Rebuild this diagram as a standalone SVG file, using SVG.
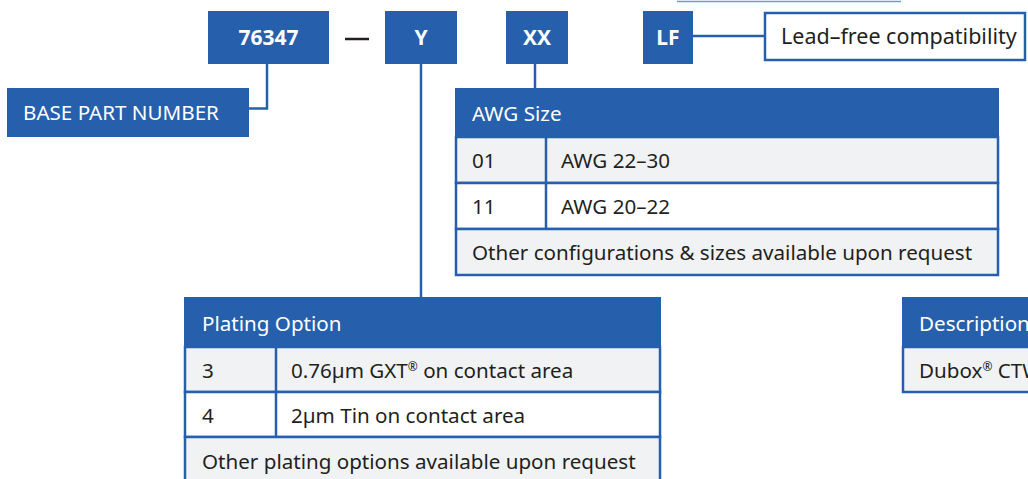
<svg xmlns="http://www.w3.org/2000/svg" width="1028" height="479" viewBox="0 0 1028 479">
<style>
  .blue{fill:#265FAC;}
  .hdr{fill:#265FAC;stroke:#265FAC;stroke-width:2;}
  .gray{fill:#F1F2F4;stroke:#265FAC;stroke-width:2.5;}
  .white{fill:#FFFFFF;stroke:#265FAC;stroke-width:2.5;}
  .div{stroke:#265FAC;stroke-width:2.5;}
  .conn{stroke:#265FAC;stroke-width:2.5;fill:none;}
  text{font-family:"Noto Sans","Open Sans",sans-serif;font-size:20.6px;fill:#231F20;}
  .wt{fill:#FFFFFF;}
  .bold{font-weight:bold;font-size:21px;fill:#FFFFFF;}
  .reg{font-size:12px;}
</style>
<rect width="1028" height="479" fill="#FFFFFF"/>
<line x1="677" y1="1.5" x2="901" y2="1.5" stroke="#6E9BD0" stroke-width="1.5"/>

<g id="connectors">
  <polyline class="conn" points="267,64 267,108.5 249,108.5"/>
  <line class="conn" x1="421" y1="64" x2="421" y2="298"/>
  <line class="conn" x1="535" y1="64" x2="535" y2="89"/>
  <line class="conn" x1="693" y1="36" x2="765" y2="36"/>
</g>

<g id="part-76347">
  <rect class="blue" x="208" y="11" width="121" height="53"/>
  <text class="bold" x="268.5" y="45" text-anchor="middle">76347</text>
</g>
<g id="dash">
  <line x1="345" y1="39" x2="369" y2="39" stroke="#231F20" stroke-width="2.5"/>
</g>
<g id="part-Y">
  <rect class="blue" x="385" y="11" width="72" height="53"/>
  <text class="bold" x="421" y="45" text-anchor="middle">Y</text>
</g>
<g id="part-XX">
  <rect class="blue" x="506" y="11" width="62" height="53"/>
  <text class="bold" x="537" y="45" text-anchor="middle">XX</text>
</g>
<g id="part-LF">
  <rect class="blue" x="643" y="11" width="50" height="53"/>
  <text class="bold" x="668" y="45" text-anchor="middle">LF</text>
</g>
<g id="lead-free">
  <rect x="765" y="13" width="260" height="47" fill="#FFFFFF" stroke="#265FAC" stroke-width="2.5"/>
  <text x="781" y="44" style="font-size:21.5px">Lead–free compatibility</text>
</g>
<g id="base-part-number">
  <rect class="blue" x="7" y="88" width="242" height="49"/>
  <text class="wt" x="23" y="120">BASE PART NUMBER</text>
</g>

<g id="awg-table">
  <rect class="hdr" x="456" y="89" width="542" height="48"/>
  <rect class="gray" x="456" y="137" width="542" height="46"/>
  <rect class="white" x="456" y="183" width="542" height="46"/>
  <rect class="gray" x="456" y="229" width="542" height="46"/>
  <line class="div" x1="546" y1="137" x2="546" y2="229"/>
  <text class="wt" x="472" y="121">AWG Size</text>
  <text x="472" y="168">01</text>
  <text x="561" y="168">AWG 22–30</text>
  <text x="472" y="214">11</text>
  <text x="561" y="214">AWG 20–22</text>
  <text x="472" y="260">Other configurations &amp; sizes available upon request</text>
</g>

<g id="plating-table">
  <rect class="hdr" x="185" y="298" width="475" height="49"/>
  <rect class="gray" x="185" y="347" width="475" height="45"/>
  <rect class="white" x="185" y="392" width="475" height="45"/>
  <rect class="gray" x="185" y="437" width="475" height="50"/>
  <line class="div" x1="276" y1="347" x2="276" y2="437"/>
  <text class="wt" x="202" y="331">Plating Option</text>
  <text x="202" y="378">3</text>
  <text x="291" y="378">0.76µm GXT<tspan class="reg" dy="-7">®</tspan><tspan dy="7"> on contact area</tspan></text>
  <text x="202" y="423">4</text>
  <text x="291" y="423">2µm Tin on contact area</text>
  <text x="202" y="469">Other plating options available upon request</text>
</g>

<g id="description-table">
  <rect class="hdr" x="903" y="298" width="140" height="49"/>
  <rect class="gray" x="903" y="347" width="140" height="45"/>
  <text class="wt" x="919" y="331">Description</text>
  <text x="919" y="378">Dubox<tspan class="reg" dy="-7">®</tspan><tspan dy="7"> CTW</tspan></text>
</g>
</svg>
